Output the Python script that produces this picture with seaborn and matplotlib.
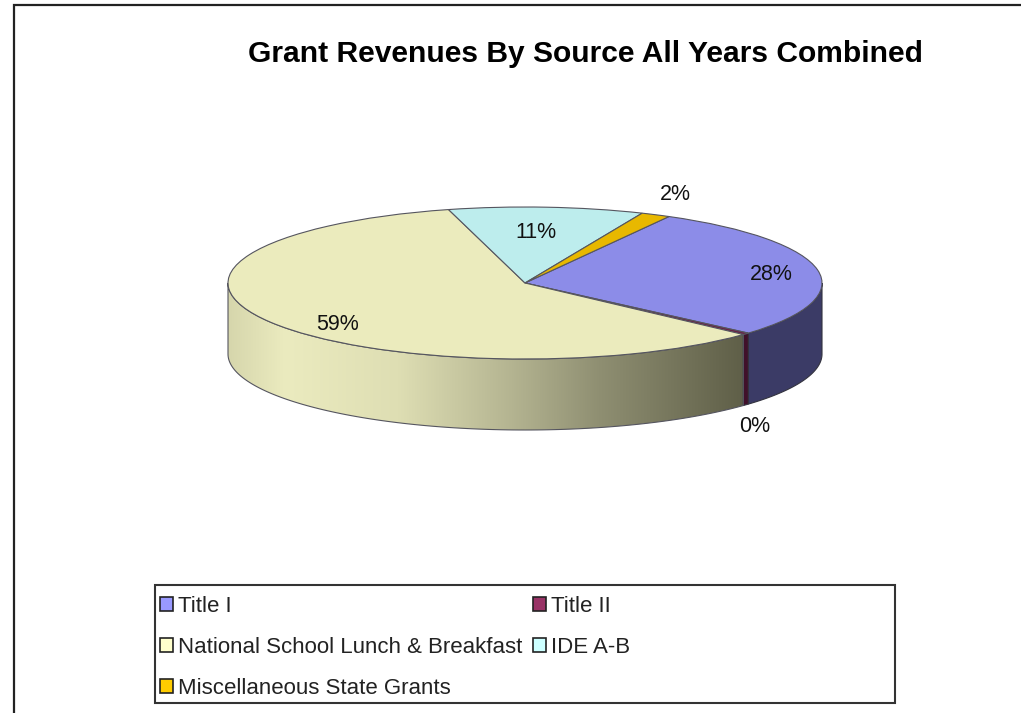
import numpy as np
import pandas as pd
import seaborn as sns
import matplotlib
matplotlib.use("Agg")
import matplotlib.pyplot as plt
from matplotlib.colors import LinearSegmentedColormap
from matplotlib.patches import Patch, Polygon, Rectangle

sources = ["Title I", "Title II", "National School Lunch & Breakfast", "IDE A-B", "Miscellaneous State Grants"]
shares = [28.4, 0.4, 59.0, 10.6, 1.6]
title_text = "Grant Revenues By Source All Years Combined"

top_colors = ["#8c8ce8", "#6b2045", "#ebebbd", "#bdeded", "#e8b800"]
wall_colors = ["#3b3b66", "#40102a", None, "#5a7a7a", "#8a6e00"]
legend_colors = ["#9999ff", "#993366", "#ffffcc", "#ccffff", "#ffcc00"]
wall_gradient = ["#d6d6ac", "#ebebbf", "#dedeb3", "#b4b491", "#8f8f72", "#5f5f48"]
wall_stops = [0.0, 0.11, 0.33, 0.55, 0.72, 1.0]
label_xy = [(771, 275), (755, 427), (338, 325), (536, 233), (675, 195)]

W, H = 1021, 713
CX, CY, RX, RY, DEPTH = 525, 283, 297, 76, 71
START = 61.0

sns.set_theme(style="white")
plt.rcParams["font.family"] = ["Liberation Sans", "DejaVu Sans"]
df = pd.DataFrame({"source": sources, "share": shares})

fig = plt.figure(figsize=(W / 100, H / 100), dpi=100, facecolor="white")
canvas = fig.add_axes([0, 0, 1, 1], zorder=3)
canvas.set_xlim(0, W)
canvas.set_ylim(H, 0)
canvas.axis("off")
canvas.patch.set_alpha(0)

# pie axes: stretched so that the unit circle becomes the tilted ellipse
ax = fig.add_axes([(CX - 1.1 * RX) / W, 1 - (CY + 2.2 * RY) / H, 2.2 * RX / W, 3.3 * RY / H], zorder=1)
wedges, _ = ax.pie(df["share"], colors=sns.color_palette(top_colors), startangle=START, counterclock=False,
                   radius=1, wedgeprops=dict(edgecolor="#55555f", linewidth=0.8))
ax.set_aspect("auto")
d = DEPTH / RY


def wall_outline(a0, a1):
    t = np.radians(np.linspace(a0, a1, 120))
    x, y = np.cos(t), np.sin(t)
    return np.vstack([np.column_stack([x, y]), np.column_stack([x[::-1], y[::-1] - d])])


ends = START - np.cumsum(df["share"]) * 3.6
begins = np.concatenate([[START], ends[:-1]])
for a0, a1, wc in zip(begins, ends, wall_colors):
    lo, hi = max(a1, -180), min(a0, 0)
    if hi <= lo:
        continue
    pts = wall_outline(hi, lo)
    if wc is None:
        cmap = LinearSegmentedColormap.from_list("wall", list(zip(wall_stops, wall_gradient)))
        x0, x1 = pts[:, 0].min(), pts[:, 0].max()
        im = ax.imshow(np.linspace(0, 1, 256)[None, :], extent=(x0, x1, -1 - d, 0.2), cmap=cmap, aspect="auto",
                       zorder=0.4, interpolation="bilinear")
        clip = Polygon(pts, closed=True, transform=ax.transData)
        im.set_clip_path(clip)
        ax.add_patch(Polygon(pts, closed=True, facecolor="none", edgecolor="#55555f", linewidth=0.8, zorder=0.5))
    else:
        ax.add_patch(Polygon(pts, closed=True, facecolor=wc, edgecolor="#33333f", linewidth=0.8, zorder=0.5))
ax.set_xlim(-1.1, 1.1)
ax.set_ylim(-2.2, 1.1)
ax.set_aspect("auto")

# chart frame: left and top rules only
canvas.plot([13.5, 13.5, W], [H, 5, 5], color="#222222", lw=1.6, solid_joinstyle="miter")

canvas.text(585.5, 54, title_text, ha="center", va="center", fontsize=21.6, fontweight="bold", color="black")

for (x, y), v in zip(label_xy, df["share"]):
    canvas.text(x, y, f"{v:.0f}%", ha="center", va="center", fontsize=15.5, color="#111111")

canvas.add_patch(Rectangle((155, 585), 740, 118, facecolor="white", edgecolor="#333333", lw=1.5, zorder=1))
handles = [Patch(facecolor=c, edgecolor="#222222", linewidth=1.2, label=s) for c, s in zip(legend_colors, sources)]
order = [0, 2, 4, 1, 3]
leg = canvas.legend([handles[i] for i in order], [sources[i] for i in order], ncols=2, frameon=False,
                    loc="upper left", bbox_to_anchor=(160 / W, 1 - 596 / H), bbox_transform=fig.transFigure,
                    borderaxespad=0, borderpad=0, fontsize=16, handlelength=0.58, handleheight=0.58,
                    handletextpad=0.25, labelspacing=0.9, columnspacing=0.46, labelcolor="#222222")
leg.set_zorder(2)

fig.savefig("out.png", dpi=100)
